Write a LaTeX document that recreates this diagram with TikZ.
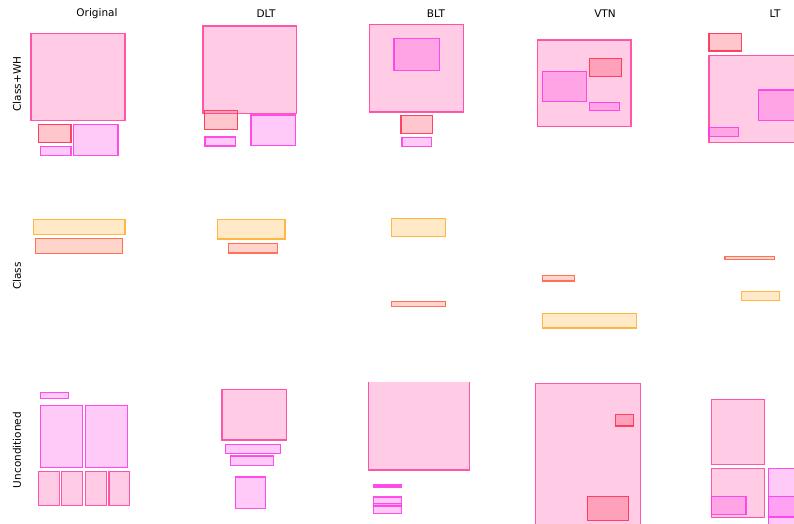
\documentclass[tikz,border=0pt]{standalone}
\usepackage{fontspec}
\setmainfont{DejaVu Sans}
\definecolor{pinkc}{RGB}{255,70,160}
\definecolor{magc}{RGB}{255,60,230}
\definecolor{redc}{RGB}{255,50,80}
\definecolor{ambc}{RGB}{255,175,50}
\definecolor{salc}{RGB}{255,100,70}
\tikzset{
  bx/.style={line width=1.4pt,draw opacity=.9,fill opacity=.28},
  pk/.style={bx,draw=pinkc,fill=pinkc},
  mg/.style={bx,draw=magc,fill=magc},
  rd/.style={bx,draw=redc,fill=redc},
  am/.style={bx,draw=ambc,fill=ambc},
  sa/.style={bx,draw=salc,fill=salc},
  ttl/.style={font=\fontsize{10.5}{12}\selectfont,inner sep=0pt}
}
\begin{document}
\begin{tikzpicture}[x=1pt,y=-1pt]
\useasboundingbox (0,0) rectangle (794,523);
\clip (0,0) rectangle (794,523);
% column and row titles
\foreach \n/\t/\x in {orig/Original/97,dlt/DLT/266,blt/BLT/436,vtn/VTN/605,lt/LT/775} \node[ttl] (t\n) at (\x,14) {\t};
\foreach \n/\t/\y in {cwh/Class+WH/84,cls/Class/276,unc/Unconditioned/450} \node[ttl,rotate=90] (r\n) at (17,\y) {\t};
% Class+WH
\foreach \s/\a/\b/\c/\d in {pk/31/33.3/125/120.3, rd/38.3/124.3/71/142.7, mg/73.3/124.3/118/155.3, mg/40.3/146.3/71/155.3,
  pk/203/26/296.7/113.3, rd/204.3/110.7/237.7/129.3, mg/205/137/235.7/146, mg/251/115/295.7/145.7,
  pk/369.3/24.3/463.7/112, mg/394/38.7/439.3/70.3, rd/401/115.3/432.3/133.3, mg/402/137.3/431.3/146.7,
  pk/537.3/40/631/126.7, rd/589.3/58.7/621.7/76.3, mg/542.3/71.3/586.3/101.7, mg/589.3/102.3/619.7/110.7,
  rd/709/33.3/741.3/51, pk/709/55.3/820/142.3, mg/758.3/90/820/120.3, mg/709/127.3/738.7/136.3}
  \draw[\s] (\a,\b) rectangle (\c,\d);
% Class
\foreach \s/\a/\b/\c/\d in {am/33.3/219.3/125/234.3, sa/35.7/238.3/122.7/253.3,
  am/217.3/219.3/285/239, sa/228.3/243.3/277.3/253,
  am/391.7/218.3/445.7/236.7, sa/391.7/301.3/445.7/306.3,
  sa/542.3/275.7/574.7/281, am/542.3/313.3/636.3/328,
  sa/725/256.7/774.7/259.3, am/741.7/291.7/779.3/300.3}
  \draw[\s] (\a,\b) rectangle (\c,\d);
% Unconditioned
\foreach \s/\a/\b/\c/\d in {mg/40.3/392.7/68.7/398.3, mg/40.3/405.3/82.7/467.7, mg/85.3/405.3/127.3/467.7,
  pk/38.3/471.3/59.3/505.3, pk/61.3/471.3/82.7/505.3, pk/85.3/471.3/106.7/505.3, pk/109/471.3/129.7/505.3,
  pk/222/389.3/286.7/440, mg/225.3/444.3/280.7/453.7, mg/230.3/456/273.3/465.3, mg/235.3/477/265.7/508.3,
  mg/373.7/485/401.3/487, mg/373.7/497/401.3/506, mg/373.7/503.7/401.3/513.3,
  pk/535.3/383.7/640.3/540, rd/615.3/414.7/633.3/426, rd/587.3/496.7/628.7/520.3,
  pk/711.7/399.3/764.7/464.3, pk/711.7/468.7/764.7/517.7, mg/711.7/496.3/746/514.3,
  mg/768.3/468.7/820/540, mg/768.3/496.7/820/517}
  \draw[\s] (\a,\b) rectangle (\c,\d);
\begin{scope}
\clip (360,382.7) rectangle (480,523);
\draw[pk] (368.3,370) rectangle (469.3,470);
\end{scope}
\end{tikzpicture}
\end{document}
